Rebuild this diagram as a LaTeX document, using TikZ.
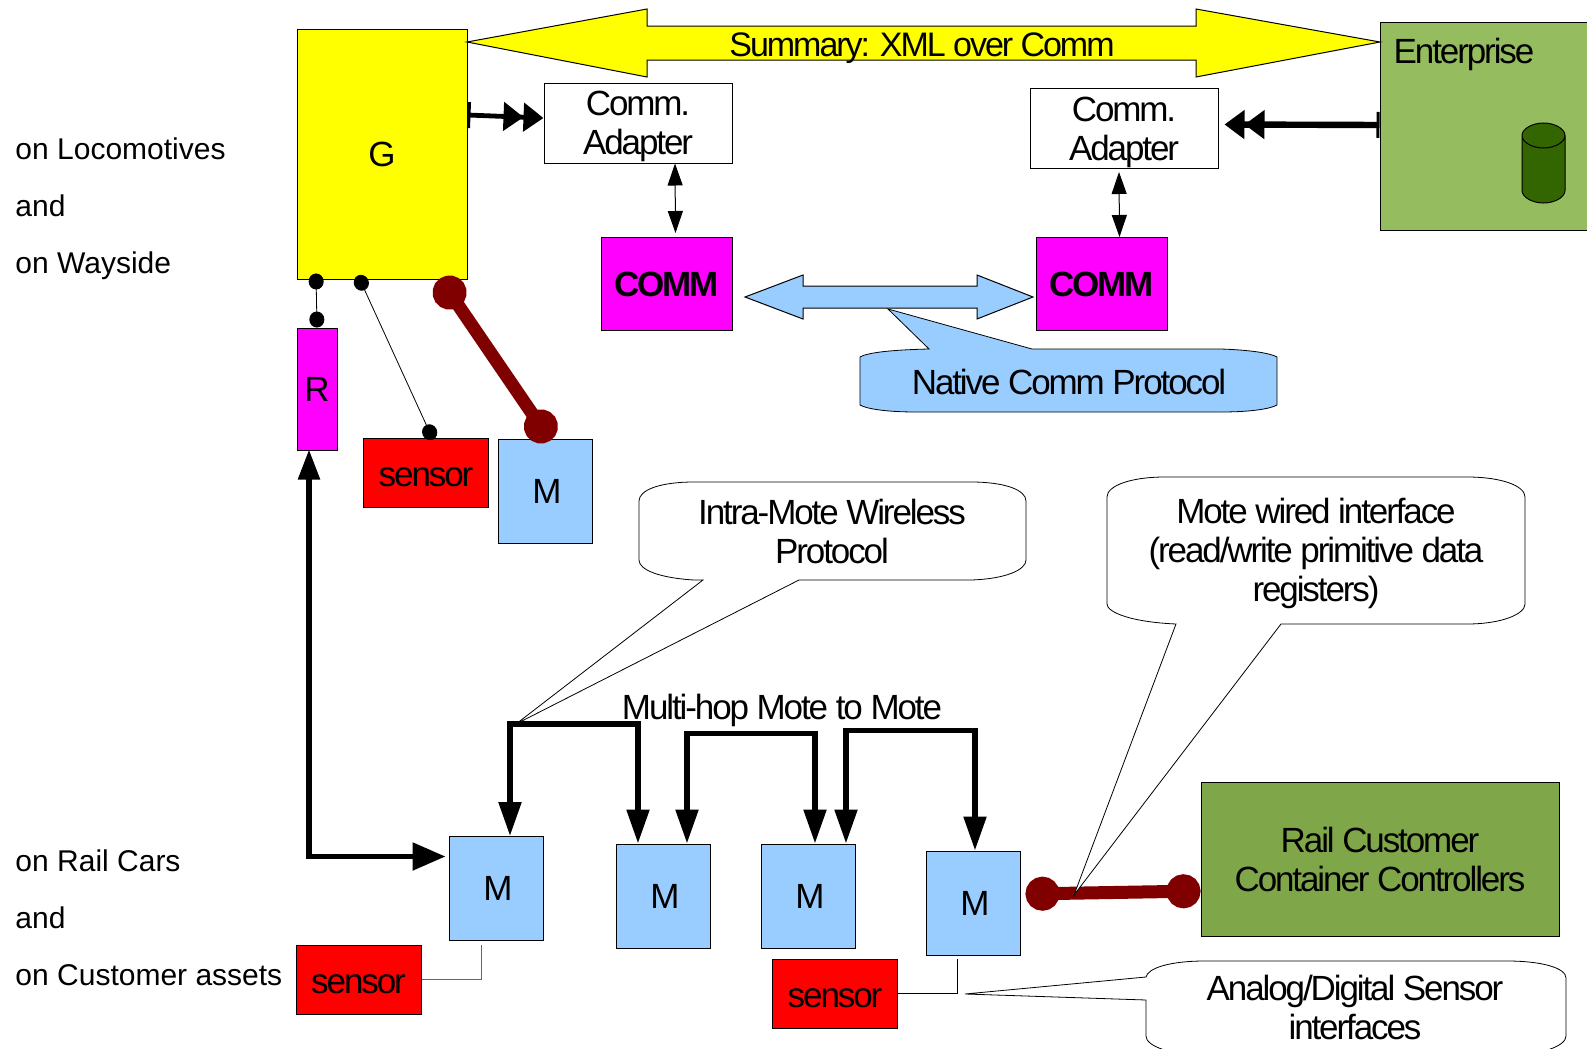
\documentclass[tikz,border=0pt]{standalone}
\usepackage{fontspec}
\setmainfont{Liberation Sans}
\newfontfamily\tightfont[LetterSpace=-6]{Liberation Sans}
\usetikzlibrary{arrows.meta}

\definecolor{coreyellow}{RGB}{255,255,0}
\definecolor{coremagenta}{RGB}{255,0,255}
\definecolor{sensorred}{RGB}{255,0,0}
\definecolor{entgreen}{HTML}{95BC5F}
\definecolor{railgreen}{HTML}{7FA74A}
\definecolor{drumgreen}{HTML}{336600}
\definecolor{moteblue}{HTML}{99CCFF}
\definecolor{linkred}{HTML}{800000}

\begin{document}
\begin{tikzpicture}[x=0.5pt,y=-0.5pt,line width=0.5pt,
    box/.style={draw,inner sep=0pt,align=center,font=\tightfont\fontsize{17.5}{19.5}\selectfont},
    text only/.style={inner sep=0pt,align=center,font=\tightfont\fontsize{17.5}{19.5}\selectfont},
    place/.style={inner sep=0pt,anchor=base west,font=\fontsize{15}{18}\selectfont},
    mote/.style={box,fill=moteblue,minimum width=47pt,minimum height=52pt},
    sensor/.style={box,fill=sensorred,minimum width=62.5pt,minimum height=34.5pt,text height=13.8pt},
    adapter/.style={box,fill=white,minimum width=94pt,minimum height=40pt,text depth=0pt},
    comm/.style={box,fill=coremagenta,minimum width=65.5pt,minimum height=46.5pt,font=\tightfont\bfseries\fontsize{17.5}{19.5}\selectfont},
    bubble/.style={draw,fill=white,line width=0.4pt},
    duplex/.style={line width=0.5pt,{Triangle[length=11pt,width=7.5pt]}-{Triangle[length=11pt,width=7.5pt]}},
    hop/.style={line width=2.7pt,{Triangle[length=17pt,width=11pt]}-{Triangle[length=17pt,width=11pt]}},
    feed/.style={{Bar[width=13pt,line width=1.5pt]}-{Triangle[length=10pt,width=14pt]Triangle[length=10pt,width=14pt]}},
    pin/.style={line width=0.4pt,{Circle[length=8pt,width=7.5pt]}-{Circle[length=8pt,width=7.5pt]}},
    link/.style={linkred,line width=6.5pt,{Circle[length=17pt,width=17pt]}-{Circle[length=17pt,width=17pt]}}
]

\clip (0,0) rectangle (1587,1049);

\node [box,fill=coreyellow,minimum width=85pt,minimum height=125pt] (G) at (382,154) {G};
\node [box,fill=coremagenta,minimum width=20pt,minimum height=61pt] (R) at (317,389) {R};
\node [sensor] (s1) at (426,472.5) {sensor};
\node [mote] (m0) at (545,491) {\kern2pt M};

\node [adapter] (ad1) at (638,123) {Comm.\\Adapter};
\node [adapter] (ad2) at (1124,128.5) {Comm.\\Adapter};
\node [comm] (c1) at (666.5,284) {COMM};
\node [comm] (c2) at (1101.5,284) {COMM};

\node [box,fill=entgreen,minimum width=110pt,minimum height=104pt] (ent) at (1490,126) {};
\node [text only] (entname) at (1464,54) {Enterprise};

\path [draw,fill=drumgreen]
    (1522,135.5) -- (1522,190.5)
    .. controls (1522,197) and (1532,203) .. (1543.5,203)
    .. controls (1555,203) and (1565,197) .. (1565,190.5)
    -- (1565,135.5)
    .. controls (1565,129) and (1555,123) .. (1543.5,123)
    .. controls (1532,123) and (1522,129) .. (1522,135.5)
    .. controls (1522,142) and (1532,148) .. (1543.5,148)
    .. controls (1555,148) and (1565,142) .. (1565,135.5)
;

\node [mote] (m1) at (496,888.5) {\kern2pt M};
\node [mote] (m2) at (663,896) {\kern2pt M};
\node [mote] (m3) at (808,896) {\kern2pt M};
\node [mote] (m4) at (973,903) {\kern2pt M};
\node [sensor] (s2) at (358.5,979.5) {sensor};
\node [sensor] (s3) at (835,993.5) {sensor};
\node [box,fill=railgreen,minimum width=179pt,minimum height=77pt] (rail) at (1380,859) {Rail Customer\\Container Controllers};

\path [draw,fill=coreyellow]
    (467,42) -- (647,9) -- (647,26) -- (1196,26) -- (1196,9) -- (1380,42)
    -- (1196,77) -- (1196,60) -- (647,60) -- (647,77) -- cycle
;
\node [text only,font=\tightfont\fontsize{17}{19.5}\selectfont] (sum) at (922,48) {Summary: XML over Comm};

\path [bubble,fill=moteblue]
    (888,309) -- (1032,349) -- (1221,349) .. controls (1250,350) and (1270,353) .. (1277,357)
    -- (1277,405) .. controls (1270,409) and (1250,412) .. (1221,412)
    -- (916,412) .. controls (887,412) and (867,409) .. (860,405)
    -- (860,357) .. controls (867,353) and (887,350) .. (929,349) -- cycle
;
\node [text only] (native) at (1069,381.5) {Native Comm Protocol};

\path [draw,fill=moteblue]
    (745,297) -- (803,275) -- (803,286) -- (977,286) -- (977,275) -- (1033,297)
    -- (977,319) -- (977,308) -- (803,308) -- (803,319) -- cycle
;

\path [draw,feed,line width=2.4pt] ([yshift=19.5pt]G.east) -- ([yshift=2.5pt]ad1.west);
\path [draw,feed,line width=3.2pt] ([yshift=0.5pt]ent.west) -- ([xshift=3pt,yshift=2pt]ad2.east);
\path [draw,duplex] ([xshift=18.5pt]ad1.south) -- ([xshift=4.5pt,yshift=2pt]c1.north);
\path [draw,duplex] ([xshift=-2.5pt,yshift=-1.5pt]ad2.south) -- ([xshift=9pt]c2.north);

\path [draw,pin] ([xshift=-33pt,yshift=3pt]G.south) -- (R.north);
\path [draw,pin] ([xshift=-12pt,yshift=2pt]G.south) -- ([xshift=3.5pt,yshift=-1pt]s1.north);
\path [draw,link] ([xshift=29pt,yshift=0.5pt]G.south) -- ([xshift=2.75pt,yshift=-1pt]m0.north);

\path [draw,line width=2.7pt,{Triangle[length=15pt,width=10.5pt]}-{Triangle[length=16.5pt,width=13.5pt]}]
    ([xshift=-4pt,yshift=0.5pt]R.south) |- ([xshift=-1.5pt,yshift=16pt]m1.west);
\path [draw,hop] ([xshift=7pt]m1.north) -- ++(0,-112) -| ([xshift=-12.5pt]m2.north);
\path [draw,hop] ([xshift=12pt]m2.north) -- ++(0,-110) -| ([xshift=3.5pt]m3.north);
\path [draw,hop] ([xshift=19pt]m3.north) -- ++(0,-113) -| ([xshift=1pt]m4.north);

\path [draw,black!60] (s2.east) -| ([xshift=-7.5pt,yshift=-2pt]m1.south);
\path [draw] (s3.east) -| ([xshift=-8pt,yshift=-1.5pt]m4.south);

\path [draw,link] ([xshift=2.5pt,yshift=4.5pt]m4.east) -- ([yshift=-16pt]rail.west);

\path [bubble]
    (516,724) -- (703,580) -- (694,580) .. controls (660,578) and (639,570) .. (639,560)
    -- (639,501) .. controls (639,490) and (660,482) .. (694,482)
    -- (971,482) .. controls (1005,482) and (1026,490) .. (1026,501)
    -- (1026,560) .. controls (1026,570) and (1005,579) .. (971,580)
    -- (799,580) -- cycle
;
\node [text only] (intra) at (832,531) {Intra-Mote Wireless\\Protocol};

\path [bubble]
    (1074,895) -- (1176,624) .. controls (1130,622) and (1107,612) .. (1107,604)
    -- (1107,497) .. controls (1107,486) and (1130,477) .. (1165,477)
    -- (1467,477) .. controls (1502,477) and (1525,486) .. (1525,497)
    -- (1525,604) .. controls (1525,614) and (1502,624) .. (1467,624)
    -- (1281,624) -- cycle
;
\node [text only] (wired) at (1316,553) {Mote wired interface\\(read/write primitive data\\registers)};

\path [bubble]
    (965,994) -- (1146,977) .. controls (1148,968) and (1170,961) .. (1205,961)
    -- (1507,961) .. controls (1542,961) and (1566,968) .. (1566,978)
    -- (1566,1036) .. controls (1566,1046) and (1542,1055) .. (1507,1055)
    -- (1205,1055) .. controls (1170,1055) and (1146,1046) .. (1146,1036)
    -- (1146,1000) -- cycle
;
\node [text only] (analog) at (1355,1007) {Analog/Digital Sensor\\interfaces};

\node [text only] (multi) at (782,710) {Multi-hop Mote to Mote};

\node [place] (p1) at (15,159) {on Locomotives};
\node [place] (p2) at (15,216) {and};
\node [place] (p3) at (15,273) {on Wayside};
\node [place] (p4) at (15,871) {on Rail Cars};
\node [place] (p5) at (15,928) {and};
\node [place] (p6) at (15,985) {on Customer assets};

\end{tikzpicture}
\end{document}
